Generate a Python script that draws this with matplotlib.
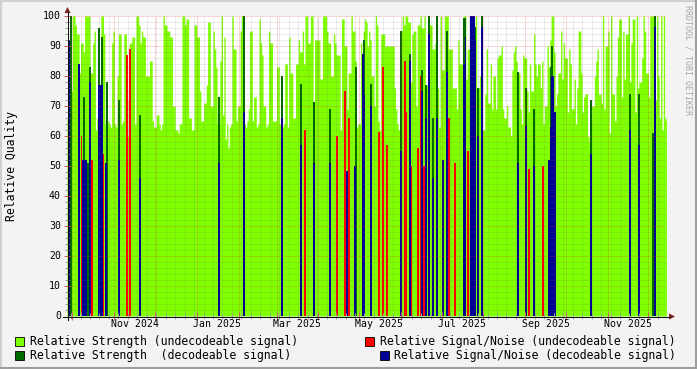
import numpy as np
import pandas as pd
import matplotlib
matplotlib.use("Agg")
import matplotlib.pyplot as plt
import matplotlib.dates as mdates
from matplotlib.patches import Rectangle, Polygon
from matplotlib.lines import Line2D

# ---------------- data ----------------
start_date = "2024-09-27"
end_date = "2025-12-14"

# Relative Strength (undecodeable signal), one value per day from start_date
strength_undec = [
    66, 75, 75, 75, 100, 100, 97, 94, 94, 81,
    91, 91, 88, 100, 100, 100, 100, 81, 81, 91,
    95, 62, 66, 72, 72, 100, 100, 94, 64, 63,
    65, 64, 63, 91, 95, 64, 63, 80, 94, 94,
    64, 65, 94, 94, 72, 60, 91, 91, 93, 93,
    64, 100, 100, 97, 91, 95, 93, 93, 80, 80,
    80, 85, 85, 65, 63, 63, 67, 67, 64, 62,
    64, 100, 97, 97, 95, 95, 93, 93, 70, 70,
    62, 62, 61, 64, 64, 100, 100, 97, 99, 99,
    66, 66, 62, 62, 97, 97, 93, 93, 75, 65,
    65, 71, 71, 77, 98, 98, 70, 70,
    95, 89, 83, 64, 64, 85, 100, 67, 93, 59,
    64, 56, 63, 64, 100, 89, 89, 65, 70, 70,
    95, 100, 64, 64, 63, 65, 69, 95, 95, 65,
    73, 73, 63, 64, 99, 91, 87, 70, 70, 63,
    64, 95, 91, 91, 65, 65, 65, 83, 83, 64,
    64, 63, 64, 84, 84, 63, 93, 81, 81, 66,
    66, 84, 84, 92, 88, 88, 95, 84, 100, 100,
    91, 91, 100, 100, 64, 92, 92, 92, 92, 79,
    79, 100, 100, 100, 95, 91, 91, 80, 80, 94,
    91, 87, 87, 87, 62, 99, 99, 90, 90, 69,
    81, 81, 100, 95, 95, 85, 63, 64, 64, 91,
    85, 95, 99,
    98, 90, 95, 92, 80, 80, 70, 100, 97, 65,
    62, 94, 94, 94, 90, 90, 90, 90, 90, 90,
    90, 76, 69, 64, 62, 95, 95, 100, 97, 100,
    100, 98, 98, 78, 94, 95, 95, 70, 97, 97,
    100, 96, 96, 100, 77, 77, 100, 97, 97, 89,
    89, 91, 75, 76, 63, 100, 82, 82, 100, 100,
    100, 89, 89, 89, 76, 76, 76, 69, 92, 84,
    84, 84, 100, 100, 79, 89, 89, 100, 100, 100,
    81, 100, 76, 76, 80, 80, 62, 62, 74, 89,
    71, 71, 84, 69, 80, 80, 69, 86, 87, 87,
    90, 69, 66, 66, 70, 63, 63, 60, 82,
    88, 90, 85, 81, 81,
    69, 64, 87, 86, 86,
    75, 68, 84, 75, 75,
    94, 84, 80, 84, 84,
    76, 85, 64, 70, 70,
    90, 83, 92, 100, 100,
    88, 70, 74, 81, 81,
    95, 79, 91, 86, 86,
    68, 89, 84, 69, 69,
    79, 64, 76, 95, 95,
    81, 68, 73, 74, 74,
    60, 58, 64, 70, 70,
    80, 85, 89, 74, 74,
    71, 100, 69, 90, 90,
    95, 61, 100, 74, 74,
    65, 80, 93, 99, 99,
    73, 95, 79, 94, 94,
    100, 78, 91, 99, 99,
    68, 100, 76, 78, 78,
    86, 100, 95, 81, 81,
    73, 100, 100, 100, 100,
    72, 100, 80, 66, 100,
    62, 100, 66, 65,
]

# Relative Signal/Noise (undecodeable signal) - sparse days
snr_undec_dates = [
    "2024-10-07", "2024-10-15", "2024-10-23", "2024-11-10", "2024-11-12",
    "2025-03-21", "2025-04-14", "2025-04-20", "2025-04-23", "2025-05-15",
    "2025-05-18", "2025-05-21", "2025-06-03", "2025-06-04", "2025-06-08",
    "2025-06-13", "2025-06-15", "2025-06-17", "2025-07-06", "2025-07-10",
    "2025-07-20", "2025-09-03", "2025-09-13",
]
snr_undec_values = [
    60, 52, 54, 87, 89,
    62, 60, 75, 66, 61.5,
    83, 57, 85, 68, 50,
    56, 80, 50, 66, 51,
    55, 49, 50,
]

# Relative Strength (decodeable signal) - sparse days
strength_dec_dates = [
    "2024-09-29", "2024-10-09", "2024-10-12", "2024-10-13", "2024-10-20",
    "2024-10-22", "2024-10-26", "2024-11-04", "2024-11-19", "2025-01-17",
    "2025-02-04", "2025-03-04", "2025-03-18", "2025-03-28", "2025-04-09",
    "2025-04-28", "2025-05-04", "2025-05-09", "2025-05-31", "2025-06-07",
    "2025-06-16", "2025-06-19", "2025-06-21", "2025-06-24", "2025-06-27",
    "2025-07-04", "2025-07-17", "2025-07-18", "2025-07-25", "2025-07-27",
    "2025-07-30", "2025-08-26", "2025-09-01", "2025-09-07", "2025-09-19",
    "2025-09-20", "2025-10-19", "2025-11-17", "2025-11-23", "2025-12-04",
    "2025-12-05",
]
strength_dec_values = [
    100, 73, 51, 83, 96,
    93, 78, 72, 67, 73,
    100, 80, 77.5, 71.5, 69,
    83, 92, 77.5, 95, 87.5,
    82, 77, 100, 66, 100,
    95, 99.5, 99.5, 96.5, 76,
    100, 81.5, 76, 69, 83,
    90, 72, 74, 74, 61,
    100,
]

# Relative Signal/Noise (decodeable signal) - sparse days
snr_dec_dates = [
    "2024-09-28", "2024-10-05", "2024-10-08", "2024-10-09", "2024-10-10",
    "2024-10-13", "2024-10-20", "2024-10-21", "2024-10-22", "2024-10-25",
    "2024-11-04", "2024-11-19", "2025-01-17", "2025-02-04", "2025-03-04",
    "2025-03-18", "2025-03-28", "2025-04-09", "2025-04-21", "2025-04-27",
    "2025-05-03", "2025-05-04", "2025-05-09", "2025-05-31", "2025-06-07",
    "2025-06-16", "2025-06-19", "2025-06-21", "2025-06-24", "2025-06-27",
    "2025-07-01", "2025-07-04", "2025-07-17", "2025-07-18", "2025-07-22",
    "2025-07-23", "2025-07-24", "2025-07-25", "2025-07-27", "2025-07-30",
    "2025-08-26", "2025-09-01", "2025-09-07", "2025-09-18", "2025-09-19",
    "2025-09-20", "2025-09-21", "2025-09-22", "2025-10-19", "2025-11-17",
    "2025-11-23", "2025-12-05",
]
snr_dec_values = [
    92, 84, 52, 52, 52,
    78, 77, 77, 77, 51,
    52, 46, 51, 68, 66,
    57, 51, 51, 48.5, 50,
    87.5, 74, 70, 55, 85,
    75, 66, 94, 46, 66,
    52, 81.5, 84, 93, 100,
    100, 100, 92, 60, 96.5,
    51, 63.5, 50, 52, 63,
    80, 80, 68, 54, 62,
    57, 96.5,
]

y_ticks = [0, 10, 20, 30, 40, 50, 60, 70, 80, 90, 100]
x_label_months = ["2024-11", "2025-01", "2025-03", "2025-05", "2025-07", "2025-09", "2025-11"]

legend_labels = [
    "Relative Strength (undecodeable signal)",
    "Relative Signal/Noise (undecodeable signal)",
    "Relative Strength  (decodeable signal)",
    "Relative Signal/Noise (decodeable signal)",
]

# ---------------- style ----------------
W, H = 697, 369
C_LGREEN = "#7FFF00"
C_DGREEN = "#006A00"
C_RED = "#FF0000"
C_BLUE = "#000094"
C_BACK = "#F3F3F3"
C_ARROW = "#7F1F1F"
MONO = "DejaVu Sans Mono"

fig = plt.figure(figsize=(W / 100, H / 100), dpi=100, facecolor=C_BACK)
L, R, T, B = 67, 666, 16, 316
ax = fig.add_axes([L / W, 1 - B / H, (R - L) / W, (B - T) / H])
ax.set_facecolor("white")

t0 = pd.Timestamp(start_date)
t1 = pd.Timestamp(end_date)
days = pd.date_range(t0, periods=len(strength_undec), freq="D")
xs = mdates.date2num(np.append(days.values, (days[-1] + pd.Timedelta(days=1)).to_datetime64()))
ys = np.append(np.array(strength_undec, float), strength_undec[-1])
ax.fill_between(xs, 0, ys, step="post", color=C_LGREEN, lw=0, antialiased=False, zorder=1)

def sparse(dates, vals, color, z):
    d = mdates.date2num(pd.to_datetime(dates))
    ax.bar(d, vals, width=1.45, align="edge", color=color, lw=0, antialiased=False, zorder=z)

sparse(snr_undec_dates, snr_undec_values, C_RED, 2)
sparse(strength_dec_dates, strength_dec_values, C_DGREEN, 3)
sparse(snr_dec_dates, snr_dec_values, C_BLUE, 4)

xmin = mdates.date2num(t0)
xmax = mdates.date2num(t1)
ax.set_xlim(xmin, xmax)
ax.set_ylim(0, 100)

# grid (drawn on top, rrdtool style)
dot = (0, (1.0, 1.0))
minor_y = [v for v in np.arange(2, 101, 2) if v % 10 != 0]
major_y = [v for v in y_ticks if v > 0]
ax.hlines(minor_y, xmin, xmax, colors=(0.4, 0.4, 0.4, 0.25), linestyles=dot, lw=0.72, zorder=10)
ax.hlines(major_y, xmin, xmax, colors=(0.87, 0.2, 0.2, 0.4), linestyles=dot, lw=0.72, zorder=11)
weeks = pd.date_range(t0, t1, freq="W-MON")
months = pd.date_range(t0, t1, freq="MS")
week_x = [mdates.date2num(w) for w in weeks if w.day != 1]
month_x = [mdates.date2num(m) for m in months]
ax.vlines(week_x, 0, 100, colors=(0.4, 0.4, 0.4, 0.25), linestyles=dot, lw=0.72, zorder=10)
ax.vlines(month_x, 0, 100, colors=(0.87, 0.2, 0.2, 0.4), linestyles=dot, lw=0.72, zorder=11)

for s in ax.spines.values():
    s.set_visible(False)
ax.set_xticks([])
ax.set_yticks([])

# tick marks
ax.vlines(week_x, -1.0, 1.0, colors="#A0A0A0", lw=0.72, zorder=12, clip_on=False)
ax.vlines(month_x, -1.3, 1.3, colors="#D06060", lw=0.72, zorder=12, clip_on=False)
ax.hlines(minor_y, xmin - 1.5, xmin + 1.5, colors="#A0A0A0", lw=0.72, zorder=12, clip_on=False)
ax.hlines(major_y, xmin - 2.0, xmin + 2.0, colors="#D06060", lw=0.72, zorder=12, clip_on=False)

def fx(px):
    return px / W

def fy(py):
    return 1 - py / H

# axes lines and arrows
fig.add_artist(Line2D([fx(67.5), fx(67.5)], [fy(320), fy(12)], color="#101010", lw=0.75))
fig.add_artist(Line2D([fx(63), fx(670)], [fy(316.5), fy(316.5)], color="#101010", lw=0.75))
fig.add_artist(Polygon([(fx(64.5), fy(13)), (fx(70.5), fy(13)), (fx(67.5), fy(7))],
                       closed=True, transform=fig.transFigure, color=C_ARROW, lw=0))
fig.add_artist(Polygon([(fx(669), fy(313.5)), (fx(669), fy(319.5)), (fx(675), fy(316.5))],
                       closed=True, transform=fig.transFigure, color=C_ARROW, lw=0))

# tick labels
for v in y_ticks:
    fig.text(fx(61), fy(B - v * (B - T) / 100.0), str(v), ha="right", va="center",
             family=MONO, fontsize=7.1, color="black")
for m in x_label_months:
    ts = pd.Timestamp(m + "-01") + pd.Timedelta(days=15)
    xpx = L + (mdates.date2num(ts) - xmin) / (xmax - xmin) * (R - L)
    fig.text(fx(xpx), fy(324), ts.strftime("%b %Y"), ha="center", va="center",
             family=MONO, fontsize=7.1, color="black")

fig.text(fx(12), fy(166), "Relative Quality", rotation=90, ha="center", va="center",
         family=MONO, fontsize=8.3, color="black")
fig.text(fx(688), fy(5), "RRDTOOL / TOBI OETIKER", rotation=-90, ha="center", va="top",
         family=MONO, fontsize=6.0, color="#A8A8A8")

# legend
legend_items = [
    (15, 341, C_LGREEN, legend_labels[0], 30),
    (365, 341, C_RED, legend_labels[1], 380),
    (15, 355, C_DGREEN, legend_labels[2], 30),
    (380, 355, C_BLUE, legend_labels[3], 394),
]
for bx, cy, col, lab, tx in legend_items:
    fig.add_artist(Rectangle((fx(bx), fy(cy + 4.5)), 9 / W, 9 / H, transform=fig.transFigure,
                             facecolor=col, edgecolor="black", lw=0.6))
    fig.text(fx(tx), fy(cy), lab, ha="left", va="center", family=MONO, fontsize=8.3, color="black")

# rrdtool style 3d border
fig.add_artist(Line2D([0, 1], [fy(1), fy(1)], color="#CFCFCF", lw=1.5))
fig.add_artist(Line2D([fx(1), fx(1)], [0, 1], color="#CFCFCF", lw=1.5))
fig.add_artist(Line2D([0, 1], [fy(368), fy(368)], color="#9E9E9E", lw=1.5))
fig.add_artist(Line2D([fx(696), fx(696)], [0, 1], color="#9E9E9E", lw=1.5))

fig.savefig("out.png", dpi=100, facecolor=C_BACK)
